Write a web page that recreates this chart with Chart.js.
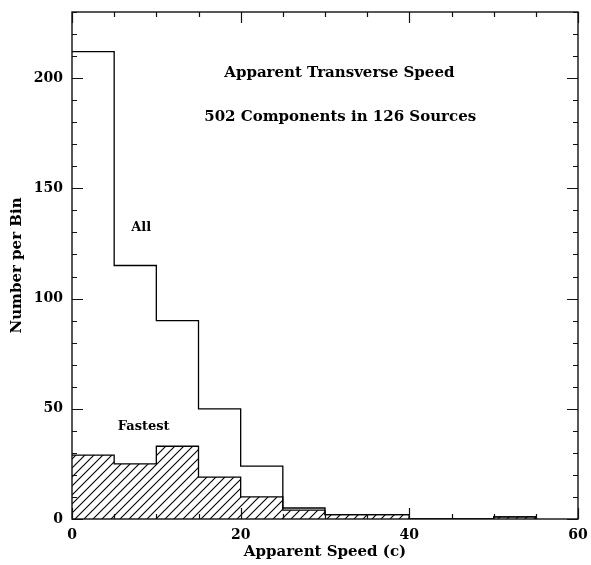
<!DOCTYPE HTML>
<html>
<head>
<title>Apparent Transverse Speed</title>
<script src="https://cdn.jsdelivr.net/npm/chart.js@4.4.0/dist/chart.umd.min.js"></script>
<style>
  body { margin: 0; background: #fff; }
</style>
</head>
<body>
<canvas id="Chart" width="591" height="565"></canvas>
<script>
// histogram bins (left edges, width 5) and counts
var binEdges      = [0, 5, 10, 15, 20, 25, 30, 35, 40, 45, 50, 55];
var allCounts     = [212, 115, 90, 50, 24, 5, 2, 2, 0, 0, 1, 0];
var fastestCounts = [29, 25, 33, 19, 10, 4, 2, 2, 0, 0, 1, 0];
var xMajor = [0, 20, 40, 60];
var yMajor = [0, 50, 100, 150, 200];
var xMinorStep = 5;
var yMinorStep = 10;

var FONT = "'DejaVu Serif', serif";

function pts(counts) {
  return binEdges.map(function (x, i) { return { x: x, y: counts[i] }; });
}

function hatch() {
  var c = document.createElement('canvas');
  c.width = 9; c.height = 9;
  var g = c.getContext('2d');
  g.strokeStyle = '#000';
  g.lineWidth = 1.1;
  g.beginPath();
  g.moveTo(-1, 10); g.lineTo(10, -1);
  g.moveTo(-1, 1); g.lineTo(1, -1);
  g.moveTo(8, 10); g.lineTo(10, 8);
  g.stroke();
  return g.createPattern(c, 'repeat');
}

// no label overhang, so layout.padding alone places the frame
function noPad(s) {
  s.paddingTop = 0; s.paddingBottom = 0; s.paddingLeft = 0; s.paddingRight = 0;
}

// frame with inward ticks on all four sides + text labels
var frame = {
  id: 'frame',
  afterDatasetsDraw: function (chart) {
    var ctx = chart.ctx, a = chart.chartArea;
    var xs = chart.scales.x, ys = chart.scales.y;
    ctx.save();
    ctx.strokeStyle = '#111';
    ctx.lineWidth = 1.2;
    ctx.beginPath();
    for (var v = xs.min; v <= xs.max; v += xMinorStep) {
      var px = Math.round(xs.getPixelForValue(v)) + 0.5;
      var len = xMajor.indexOf(v) >= 0 ? 11 : 5;
      ctx.moveTo(px, a.bottom); ctx.lineTo(px, a.bottom - len);
      ctx.moveTo(px, a.top); ctx.lineTo(px, a.top + len);
    }
    for (var w = 0; w <= ys.max; w += yMinorStep) {
      var py = Math.round(ys.getPixelForValue(w)) + 0.5;
      var l2 = yMajor.indexOf(w) >= 0 ? 11 : 5;
      ctx.moveTo(a.left, py); ctx.lineTo(a.left + l2, py);
      ctx.moveTo(a.right, py); ctx.lineTo(a.right - l2, py);
    }
    ctx.stroke();
    ctx.lineWidth = 1.4;
    ctx.strokeRect(a.left, a.top, a.right - a.left, a.bottom - a.top);

    ctx.fillStyle = '#000';
    ctx.textAlign = 'center';
    ctx.textBaseline = 'middle';
    ctx.font = 'bold 15px ' + FONT;
    ctx.fillText('Apparent Transverse Speed', xs.getPixelForValue(31.7), ys.getPixelForValue(202.5));
    ctx.fillText('502 Components in 126 Sources', xs.getPixelForValue(31.8), ys.getPixelForValue(182.4));
    ctx.font = 'bold 13px ' + FONT;
    ctx.fillText('All', xs.getPixelForValue(8.2), ys.getPixelForValue(132));
    ctx.fillText('Fastest', xs.getPixelForValue(8.5), ys.getPixelForValue(42));
    ctx.restore();
  }
};

new Chart('Chart', {
  type: 'line',
  data: {
    datasets: [{
      label: 'Fastest',
      data: pts(fastestCounts),
      stepped: 'before',
      borderColor: '#000',
      borderWidth: 1.3,
      backgroundColor: hatch(),
      fill: 'origin',
      pointRadius: 0
    }, {
      label: 'All',
      data: pts(allCounts),
      stepped: 'before',
      borderColor: '#000',
      borderWidth: 1.3,
      fill: false,
      pointRadius: 0
    }]
  },
  options: {
    responsive: false,
    animation: false,
    devicePixelRatio: 1,
    layout: { padding: { top: 12, right: 13, left: 0, bottom: 0 } },
    plugins: { legend: { display: false }, tooltip: { enabled: false } },
    scales: {
      x: {
        type: 'linear', min: 0, max: 60,
        afterFit: function (s) { s.height = 46; noPad(s); },
        grid: { display: false, drawTicks: false },
        border: { display: false },
        ticks: { stepSize: 20, padding: 8, maxRotation: 0, color: '#000', font: { family: FONT, size: 14, weight: 'bold' } },
        title: { display: true, text: 'Apparent Speed (c)', color: '#000', padding: { top: 4, bottom: 4 }, font: { family: FONT, size: 15, weight: 'bold' } }
      },
      y: {
        min: 0, max: 230,
        afterFit: function (s) { s.width = 72; noPad(s); },
        afterBuildTicks: function (s) { s.ticks = yMajor.map(function (v) { return { value: v }; }); },
        grid: { display: false, drawTicks: false },
        border: { display: false },
        ticks: { padding: 9, color: '#000', font: { family: FONT, size: 14, weight: 'bold' } },
        title: { display: true, text: 'Number per Bin', color: '#000', padding: { top: 8, bottom: 0 }, font: { family: FONT, size: 15, weight: 'bold' } }
      }
    }
  },
  plugins: [frame]
});
</script>
</body>
</html>
